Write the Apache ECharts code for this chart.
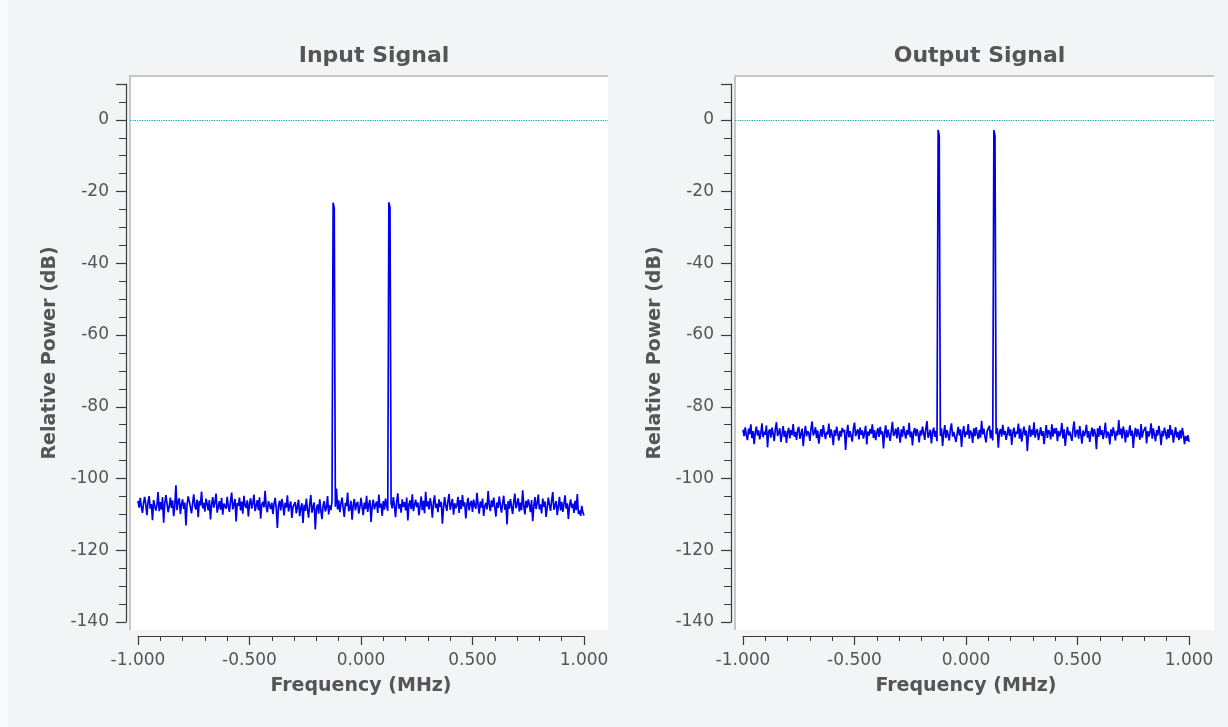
<!DOCTYPE html>
<html>
<head>
<meta charset="utf-8">
<title>Input / Output Signal</title>
<script src="https://cdn.jsdelivr.net/npm/echarts@6/dist/echarts.min.js"></script>
<style>
    html, body { margin: 0; padding: 0; background: #f3f4f6; }
    #main { width: 1228px; height: 727px; }
</style>
</head>
<body>
<div id="main"></div>
<script>
// FFT bins: -1 MHz .. +1 MHz, 401 bins of 0.005 MHz
var startFreqMHz = -1;
var binWidthMHz = 0.005;

var xTickLabels = ['-1.000', '-0.500', '0.000', '0.500', '1.000'];
var yTickLabels = ['-140', '-120', '-100', '-80', '-60', '-40', '-20', '0'];
var refLevelDb = 0;

var panelTitles = ['Input Signal', 'Output Signal'];

// tones at -0.125 and +0.125 MHz (bins 175 and 225)
var inputDb = [
    -106.2,-108.1,-105.4,-107.9,-109.6,-106.8,-105.1,-107.3,-110.2,-106.5,-104.9,-108.4,-107.1,-111.6,-106.0,-105.7,-108.9,-107.4,-103.8,-109.1,
    -106.6,-108.7,-105.2,-112.3,-107.0,-104.6,-106.9,-109.4,-107.8,-105.3,-108.2,-106.1,-110.5,-107.6,-101.9,-108.8,-106.4,-105.5,-109.9,-107.2,
    -105.8,-108.5,-106.7,-113.1,-107.4,-105.0,-106.3,-108.0,-109.7,-106.9,-104.4,-107.7,-108.6,-105.9,-110.8,-106.2,-107.5,-103.6,-108.3,-106.8,
    -109.2,-105.6,-107.1,-108.9,-106.0,-111.4,-107.3,-105.2,-108.1,-106.6,-104.2,-109.5,-107.9,-106.3,-108.7,-105.4,-110.1,-107.0,-106.5,-108.4,
    -105.1,-107.8,-109.3,-106.2,-103.9,-108.6,-107.2,-105.7,-112.0,-106.8,-107.6,-105.3,-108.9,-106.4,-109.8,-104.8,-107.5,-108.2,-106.1,-110.6,
    -107.0,-105.5,-108.4,-106.9,-104.5,-109.1,-107.7,-106.0,-108.8,-105.2,-111.2,-107.3,-106.5,-108.0,-103.4,-107.9,-109.4,-106.3,-105.8,-108.5,
    -106.7,-109.9,-107.1,-105.4,-108.3,-113.8,-107.6,-106.2,-108.9,-105.7,-107.4,-110.3,-106.8,-108.1,-104.7,-109.2,-107.5,-106.4,-111.0,-107.9,
    -108.4,-106.6,-109.7,-107.8,-105.9,-110.5,-108.2,-106.9,-112.4,-107.3,-109.0,-105.6,-108.7,-110.9,-107.1,-104.6,-109.5,-108.0,-106.7,-114.2,
    -108.5,-107.2,-109.8,-105.8,-108.9,-111.3,-107.6,-106.3,-109.2,-108.1,-104.9,-110.0,-107.5,-108.8,-106.4,-23.1,-24.6,-107.9,-102.8,-108.6,
    -106.1,-109.4,-107.0,-105.3,-108.2,-110.7,-106.8,-107.7,-103.9,-109.1,-108.4,-106.2,-111.5,-107.4,-105.7,-108.9,-107.1,-106.5,-109.8,-108.0,
    -105.4,-107.9,-110.2,-106.7,-108.5,-104.8,-109.3,-107.2,-106.0,-112.1,-107.8,-105.9,-108.6,-107.3,-106.4,-109.6,-104.5,-108.1,-107.0,-110.4,
    -106.3,-108.7,-105.6,-107.5,-109.0,-23.0,-24.4,-106.9,-108.3,-105.2,-107.7,-110.8,-106.5,-104.1,-108.4,-107.1,-109.5,-105.8,-107.9,-106.6,
    -108.9,-105.3,-111.7,-107.2,-106.1,-108.5,-104.4,-109.1,-107.4,-105.9,-108.0,-106.7,-110.3,-107.6,-105.0,-108.8,-106.2,-109.7,-103.7,-107.8,
    -106.4,-108.6,-105.5,-107.3,-110.9,-106.8,-104.7,-108.2,-107.0,-109.4,-105.8,-107.9,-106.5,-112.6,-108.1,-105.2,-107.6,-109.0,-106.3,-104.3,
    -108.7,-107.1,-105.7,-110.1,-106.9,-108.3,-107.5,-105.1,-109.6,-106.0,-108.5,-104.6,-107.8,-106.6,-111.1,-107.3,-105.4,-108.9,-107.0,-106.2,
    -109.3,-105.9,-107.6,-108.4,-104.0,-107.2,-109.8,-106.4,-108.1,-105.6,-110.4,-107.7,-106.8,-108.6,-103.5,-107.4,-109.1,-106.1,-108.0,-105.3,
    -107.9,-110.6,-106.6,-108.2,-105.0,-107.5,-109.5,-106.9,-104.8,-108.7,-107.1,-112.8,-106.3,-108.4,-105.7,-107.8,-109.9,-106.5,-104.2,-108.3,
    -107.0,-105.5,-109.2,-106.7,-108.8,-103.3,-107.6,-110.0,-106.2,-108.1,-105.8,-107.3,-109.4,-106.0,-111.9,-107.7,-105.2,-108.5,-106.8,-104.5,
    -108.6,-107.2,-109.7,-105.6,-107.9,-106.4,-110.7,-108.0,-105.3,-107.4,-109.0,-106.1,-103.8,-108.7,-107.5,-106.3,-110.2,-107.8,-105.1,-108.9,
    -106.5,-109.3,-107.1,-104.7,-108.4,-106.9,-111.3,-107.6,-105.8,-108.2,-107.0,-109.6,-106.2,-108.8,-104.3,-109.9,-108.9,-110.4,-107.6,-109.5,
    -110.3
];

var outputDb = [
    -86.4,-88.2,-85.7,-87.9,-89.3,-86.1,-87.6,-84.9,-88.7,-86.8,-90.4,-87.2,-85.5,-88.0,-86.6,-89.1,-87.4,-84.6,-88.5,-86.9,
    -87.8,-85.2,-91.3,-87.0,-86.3,-88.6,-85.8,-87.5,-89.6,-86.2,-84.3,-88.1,-87.3,-86.0,-89.8,-87.7,-85.4,-88.4,-86.7,-90.1,
    -87.1,-85.9,-88.8,-86.5,-87.9,-84.8,-88.3,-87.0,-89.2,-86.4,-85.6,-88.9,-87.5,-86.1,-91.0,-87.6,-85.3,-88.2,-86.8,-87.4,
    -89.5,-86.0,-84.1,-88.0,-87.2,-85.7,-88.7,-86.6,-90.3,-87.8,-86.2,-88.4,-85.1,-87.3,-89.0,-86.9,-87.7,-84.7,-88.6,-86.3,
    -87.9,-90.7,-86.5,-88.1,-85.5,-87.4,-89.4,-86.7,-88.3,-85.9,-87.1,-86.4,-92.0,-87.6,-85.0,-88.5,-86.8,-87.3,-89.7,-86.1,
    -84.4,-88.2,-87.0,-86.3,-89.1,-85.8,-87.8,-86.6,-88.9,-87.2,-85.3,-90.5,-86.9,-88.0,-86.2,-87.5,-84.9,-88.7,-86.5,-89.3,
    -87.3,-86.0,-88.4,-85.6,-87.7,-86.8,-91.6,-87.1,-85.2,-88.6,-86.4,-87.9,-89.5,-86.7,-84.2,-88.1,-87.4,-86.1,-88.8,-85.7,
    -87.6,-90.0,-86.3,-88.3,-85.4,-87.2,-88.9,-86.5,-87.8,-84.5,-88.5,-86.9,-90.8,-87.0,-85.9,-88.2,-86.2,-87.5,-89.9,-86.6,
    -88.0,-85.5,-87.3,-89.2,-86.1,-84.0,-88.6,-87.7,-86.4,-90.2,-87.1,-85.8,-88.4,-86.7,-89.6,-2.8,-4.4,-88.1,-86.0,-90.9,
    -87.4,-85.1,-88.7,-86.5,-87.9,-89.4,-86.2,-84.6,-88.3,-87.0,-86.8,-89.8,-87.6,-85.6,-88.0,-86.3,-91.2,-87.2,-85.4,-88.5,
    -86.9,-87.8,-84.8,-88.9,-86.6,-87.3,-90.1,-86.0,-88.2,-85.7,-87.5,-89.0,-86.4,-88.6,-83.9,-87.7,-86.1,-88.4,-89.9,-86.8,
    -87.1,-85.3,-88.8,-86.5,-89.4,-2.9,-4.5,-87.6,-85.9,-91.4,-87.0,-86.2,-88.3,-85.0,-87.8,-86.7,-89.2,-87.4,-85.6,-88.1,
    -86.3,-90.6,-87.2,-85.8,-88.5,-86.9,-87.5,-84.7,-88.9,-86.1,-89.7,-87.3,-85.5,-88.0,-86.6,-92.3,-87.7,-85.2,-88.4,-86.4,
    -87.9,-84.3,-88.6,-87.0,-86.2,-89.3,-87.6,-85.7,-88.1,-86.8,-90.4,-87.4,-85.1,-88.7,-86.5,-87.2,-89.1,-84.9,-88.3,-86.0,
    -87.5,-85.9,-89.6,-86.7,-88.2,-87.1,-84.5,-88.8,-86.3,-90.9,-87.8,-85.6,-88.0,-86.9,-87.3,-89.5,-86.1,-84.1,-88.5,-87.0,
    -86.4,-88.9,-85.4,-87.7,-90.3,-86.6,-88.1,-87.2,-85.0,-88.6,-86.8,-89.8,-87.4,-85.8,-88.3,-86.2,-87.6,-91.8,-86.0,-88.4,
    -85.3,-87.9,-86.5,-89.0,-87.1,-84.4,-88.7,-86.9,-87.5,-90.5,-86.3,-88.2,-85.7,-87.3,-89.4,-86.7,-88.0,-83.7,-87.8,-86.1,
    -88.8,-85.5,-87.0,-89.9,-86.4,-88.5,-87.3,-85.2,-88.1,-86.6,-91.5,-87.7,-85.9,-88.4,-86.2,-87.6,-89.2,-84.8,-88.6,-86.9,
    -87.4,-85.6,-90.2,-86.8,-88.3,-87.1,-84.6,-88.9,-86.0,-87.8,-89.6,-86.5,-88.0,-85.3,-87.5,-90.7,-86.7,-88.2,-85.8,-87.2,
    -89.1,-86.3,-88.7,-85.1,-87.9,-86.4,-90.0,-87.6,-85.7,-88.5,-87.0,-89.3,-86.6,-88.8,-85.9,-87.7,-90.4,-88.2,-89.5,-87.9,
    -89.8
];

var myChart = echarts.init(document.getElementById('main'));

var textColor = '#555555';
var axisColor = '#3a3a3a';
var fontFamily = '"DejaVu Sans", "Noto Sans", sans-serif';

function toPairs(values) {
    return values.map(function(v, i) {
        return [startFreqMHz + i * binWidthMHz, v];
    });
}

// pixel layout of the two panels
var panels = [
    {axisLeft: 138, canvasLeft: 130, canvasWidth: 478},
    {axisLeft: 743, canvasLeft: 735, canvasWidth: 479}
];
var plotTop = 84;
var plotHeight = 538;

var grids = [];
var xAxes = [];
var yAxes = [];
var series = [];
var titles = [];
var graphics = [];

panels.forEach(function(p, k) {
    // data grid, axis -1..1 MHz
    grids.push({left: p.axisLeft, top: plotTop, width: 446, height: plotHeight});
    // canvas grid, for the 0 dB reference line
    grids.push({left: p.canvasLeft, top: plotTop, width: p.canvasWidth, height: plotHeight});

    xAxes.push({
        gridIndex: k * 2,
        type: 'value',
        min: -1,
        max: 1,
        interval: 0.5,
        offset: 14,
        axisLine: {onZero: false, lineStyle: {color: axisColor, width: 1.2}},
        axisTick: {length: 9, lineStyle: {color: axisColor, width: 1.2}},
        minorTick: {show: true, splitNumber: 5, length: 5, lineStyle: {color: axisColor}},
        splitLine: {show: false},
        axisLabel: {
            margin: 16,
            color: textColor,
            fontSize: 17,
            fontFamily: fontFamily,
            formatter: function(v) {
                var idx = Math.round((v + 1) / 0.5);
                return xTickLabels[idx];
            }
        },
        name: 'Frequency (MHz)',
        nameLocation: 'middle',
        nameGap: 41,
        nameTextStyle: {color: textColor, fontSize: 19, fontWeight: 'bold', fontFamily: fontFamily}
    });
    xAxes.push({gridIndex: k * 2 + 1, type: 'value', min: 0, max: 1, show: false});

    yAxes.push({
        gridIndex: k * 2,
        type: 'value',
        min: -140,
        max: 10,
        interval: 20,
        offset: 12,
        axisLine: {show: true, onZero: false, lineStyle: {color: axisColor, width: 1.2}},
        axisTick: {show: true, length: 10, lineStyle: {color: axisColor, width: 1.2}},
        minorTick: {show: true, splitNumber: 4, length: 7, lineStyle: {color: axisColor}},
        splitLine: {show: false},
        axisLabel: {
            margin: 17,
            color: textColor,
            fontSize: 17,
            fontFamily: fontFamily,
            showMaxLabel: false,
            formatter: function(v) {
                var idx = Math.round((v + 140) / 20);
                return yTickLabels[idx] || '';
            }
        },
        name: 'Relative Power (dB)',
        nameLocation: 'middle',
        nameGap: 66,
        nameTextStyle: {color: textColor, fontSize: 19, fontWeight: 'bold', fontFamily: fontFamily}
    });
    yAxes.push({gridIndex: k * 2 + 1, type: 'value', min: -140, max: 10, show: false});

    series.push({
        name: panelTitles[k],
        type: 'line',
        xAxisIndex: k * 2,
        yAxisIndex: k * 2,
        data: toPairs(k === 0 ? inputDb : outputDb),
        showSymbol: false,
        symbol: 'none',
        sampling: false,
        lineStyle: {color: '#0000ee', width: 1.7},
        z: 3
    });
    series.push({
        type: 'line',
        xAxisIndex: k * 2 + 1,
        yAxisIndex: k * 2 + 1,
        data: [],
        markLine: {
            silent: true,
            symbol: 'none',
            label: {show: false},
            lineStyle: {type: 'dotted', color: '#1c9ea6', width: 1.2},
            data: [{yAxis: refLevelDb}]
        },
        z: 2
    });

    titles.push({
        text: panelTitles[k],
        left: p.canvasLeft + p.canvasWidth / 2,
        textAlign: 'center',
        top: 40,
        textStyle: {color: textColor, fontSize: 22, fontWeight: 'bold', fontFamily: fontFamily}
    });

    // white plot canvas with sunken frame (top and left edge)
    graphics.push({
        type: 'rect',
        z: -10,
        silent: true,
        shape: {x: p.canvasLeft, y: 75, width: p.canvasWidth, height: 555},
        style: {fill: '#ffffff'}
    });
    graphics.push({
        type: 'line',
        z: -9,
        silent: true,
        shape: {x1: p.canvasLeft - 1, y1: 76, x2: p.canvasLeft + p.canvasWidth, y2: 76},
        style: {stroke: '#c6c6c6', lineWidth: 2}
    });
    graphics.push({
        type: 'line',
        z: -9,
        silent: true,
        shape: {x1: p.canvasLeft, y1: 75, x2: p.canvasLeft, y2: 630},
        style: {stroke: '#c6c6c6', lineWidth: 2}
    });
});

graphics.push({
    type: 'rect',
    z: -11,
    silent: true,
    shape: {x: 0, y: 0, width: 8, height: 727},
    style: {fill: '#f8f9fa'}
});

var option = {
    backgroundColor: '#f3f4f6',
    animation: false,
    title: titles,
    grid: grids,
    xAxis: xAxes,
    yAxis: yAxes,
    series: series,
    graphic: graphics
};

myChart.setOption(option);
</script>
</body>
</html>
